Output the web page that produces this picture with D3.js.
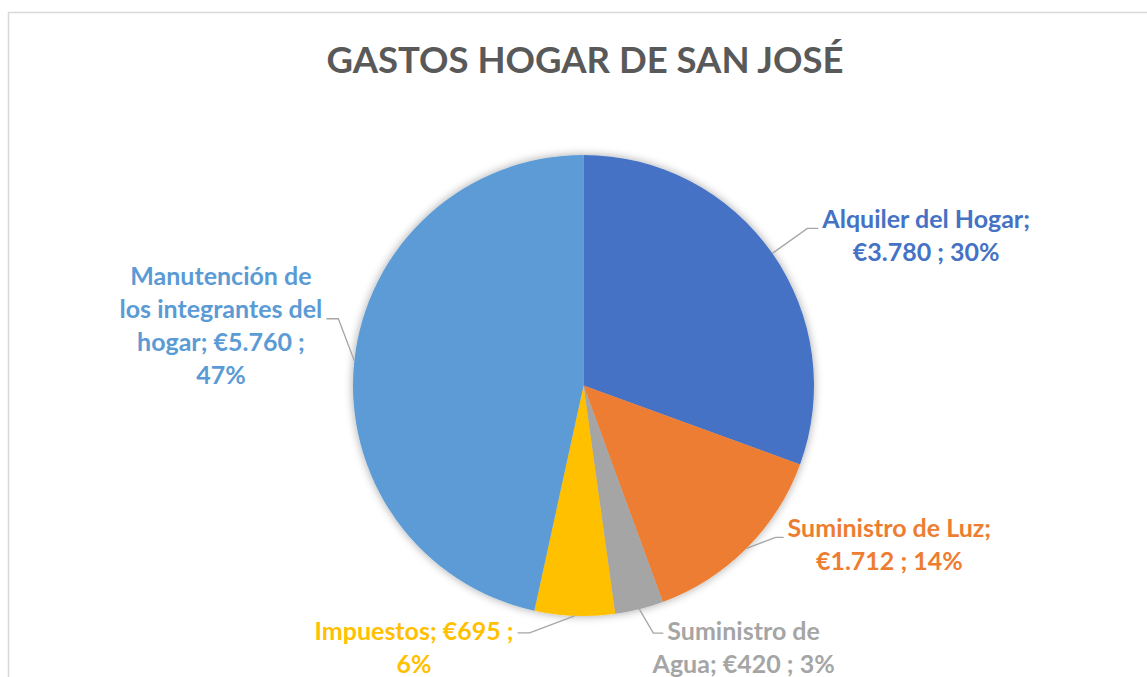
<!DOCTYPE html>
<html>
<head>
<meta charset="utf-8">
<script src="https://cdn.jsdelivr.net/npm/d3@7"></script>
<style>
  body { margin: 0; background: #fff; }
  text { font-family: Lato, "Open Sans", sans-serif; font-weight: bold; }
</style>
</head>
<body>
<svg></svg>
<script>
const title = 'GASTOS HOGAR DE SAN JOSÉ';
const categories = ['Alquiler del Hogar', 'Suministro de Luz', 'Suministro de Agua', 'Impuestos', 'Manutención de los integrantes del hogar'];
const values = [3780, 1712, 420, 695, 5760];
const colors = ['#4472C4', '#ED7D31', '#A5A5A5', '#FFC000', '#5B9BD5'];

const [svgWidth, svgHeight] = [1147, 677];
const [cx, cy, radius] = [583.5, 385.5, 230.5];
const lineHeight = 33;

// leader line / label placement, Excel style (one entry per slice)
const labelLayout = [
  { elbow: [35, -25], h: 11, side: 1, wrap: 215, anchorLine: 0, base: 0, alignBy: 'widest' },
  { elbow: [29, -11], h: 8, side: 1, wrap: 215, anchorLine: 0, base: 0, alignBy: 'widest' },
  { elbow: [14, 24], h: 10, side: 1, wrap: 190, anchorLine: 0, base: 7, alignBy: 'first' },
  { elbow: [-45, 17], h: 12, side: -1, wrap: 205, anchorLine: 0, base: 7, alignBy: 'widest' },
  { elbow: [-16, -42], h: 12, side: -1, wrap: 208, anchorLine: 1, base: -1, alignBy: 'widest' }
];

const data = categories.map((c, i) => ({ cat: c, value: values[i], color: colors[i], layout: labelLayout[i] }));
const total = d3.sum(values);

// whole percentages that add up to 100 (largest remainder), as Excel shows them
const pctRaw = values.map(v => v / total * 100);
const pct = pctRaw.map(Math.floor);
d3.range(values.length)
  .sort((a, b) => (pctRaw[b] - pct[b]) - (pctRaw[a] - pct[a]))
  .slice(0, 100 - d3.sum(pct))
  .forEach(i => pct[i] += 1);
data.forEach((d, i) => d.pct = pct[i]);

const euro = v => '€' + d3.format(',')(v).replace(/,/g, '.');
const labelText = d => `${d.cat}; ${euro(d.value)} ; ${d.pct}%`;

const svg = d3.select('svg')
  .attr('width', svgWidth)
  .attr('height', svgHeight);

const defs = svg.append('defs');
const shadow = defs.append('filter')
  .attr('id', 'glow')
  .attr('x', '-20%').attr('y', '-20%')
  .attr('width', '140%').attr('height', '140%');
shadow.append('feGaussianBlur')
  .attr('in', 'SourceAlpha')
  .attr('stdDeviation', 5)
  .attr('result', 'blur');
shadow.append('feComponentTransfer')
  .append('feFuncA')
  .attr('type', 'linear')
  .attr('slope', 0.35);
const merge = shadow.append('feMerge');
merge.append('feMergeNode');
merge.append('feMergeNode').attr('in', 'SourceGraphic');

// chart area border
svg.append('rect')
  .attr('x', 8.5)
  .attr('y', 12.5)
  .attr('width', 1300)
  .attr('height', 1000)
  .attr('fill', 'none')
  .attr('stroke', '#D9D9D9')
  .attr('stroke-width', 1.5);

svg.append('text')
  .attr('x', 585)
  .attr('y', 73)
  .attr('text-anchor', 'middle')
  .attr('fill', '#595959')
  .style('font-size', '36.5px')
  .text(title);

const pie = d3.pie()
  .value(d => d.value)
  .sort(null);
const arc = d3.arc()
  .innerRadius(0)
  .outerRadius(radius);
const arcs = pie(data);

const pieGroup = svg.append('g')
  .attr('transform', `translate(${cx}, ${cy})`);
pieGroup.append('g')
  .attr('filter', 'url(#glow)')
  .selectAll('path')
  .data(arcs)
  .enter()
  .append('path')
  .attr('d', arc)
  .attr('fill', d => d.data.color);

const edgePoint = d => {
  const a = (d.startAngle + d.endAngle) / 2;
  return [cx + radius * Math.sin(a), cy - radius * Math.cos(a)];
};

const labels = svg.append('g');
arcs.forEach(d => {
  const L = d.data.layout;
  const p0 = edgePoint(d);
  const p1 = [p0[0] + L.elbow[0], p0[1] + L.elbow[1]];
  const p2 = [p1[0] + L.side * L.h, p1[1]];

  labels.append('path')
    .attr('d', d3.line()([p0, p1, p2]))
    .attr('fill', 'none')
    .attr('stroke', '#A6A6A6')
    .attr('stroke-width', 1.3);

  const t = labels.append('text')
    .attr('text-anchor', 'middle')
    .attr('fill', d.data.color)
    .style('font-size', '25px');

  // wrap words by measured width
  const words = labelText(d.data).split(' ');
  const lines = [];
  let cur = [];
  const probe = t.append('tspan');
  words.forEach(w => {
    const test = cur.concat(w).join(' ');
    probe.text(test);
    if (cur.length && probe.node().getComputedTextLength() > L.wrap) {
      lines.push(cur.join(' '));
      cur = [w];
    } else {
      cur.push(w);
    }
  });
  lines.push(cur.join(' '));
  probe.remove();

  const widths = lines.map(s => {
    const tmp = t.append('tspan').text(s);
    const w = tmp.node().getComputedTextLength();
    tmp.remove();
    return w;
  });
  const refW = L.alignBy === 'first' ? widths[0] : d3.max(widths);
  const x = p2[0] + L.side * (4 + refW / 2);

  lines.forEach((s, i) => {
    t.append('tspan')
      .attr('x', x)
      .attr('y', p2[1] + L.base + (i - L.anchorLine) * lineHeight)
      .text(s);
  });
});
</script>
</body>
</html>
